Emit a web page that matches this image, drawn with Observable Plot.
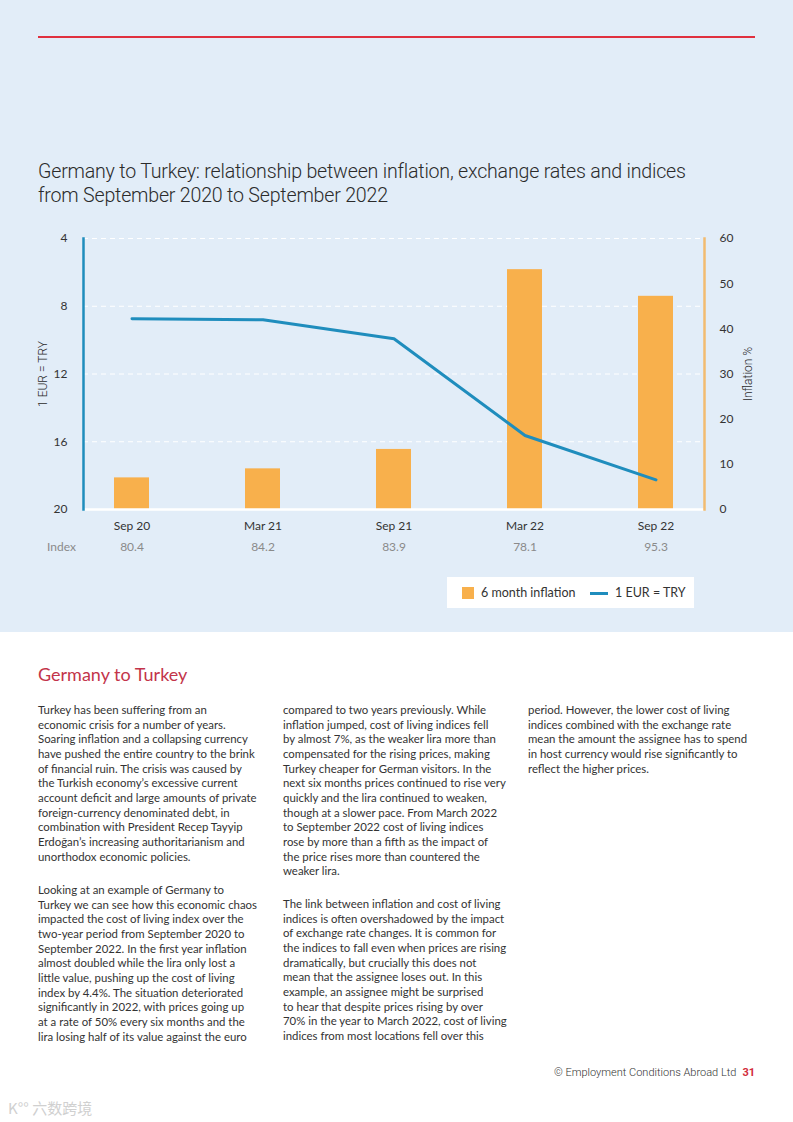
<!DOCTYPE html>
<html>
<head>
<meta charset="utf-8">
<script src="https://cdn.jsdelivr.net/npm/d3@7"></script>
<script src="https://cdn.jsdelivr.net/npm/@observablehq/plot@0.6"></script>
<style>
  html, body { margin: 0; padding: 0; }
  body { width: 793px; height: 1122px; position: relative; background: #fff; font-family: Lato, "Noto Sans", sans-serif; color: #333; overflow: hidden; }
  .band { position: absolute; left: 0; top: 0; width: 793px; height: 632px; background: #e2edf8; }
  .redline { position: absolute; left: 38px; top: 36px; width: 717px; height: 1.5px; background: #e0303f; }
  .title { position: absolute; left: 38px; top: 160px; font-family: Roboto, sans-serif; font-weight: 300; font-size: 19.6px; line-height: 24px; color: #2b2b2b; letter-spacing: -0.2px; white-space: nowrap; }
  #chart { position: absolute; left: 0; top: 220px; }
  #chart g[aria-label="y-axis label"] text { font-family: Roboto, sans-serif; font-weight: 300; fill: #2b2b2b; }
  .legend { position: absolute; left: 447px; top: 577px; width: 247px; height: 31px; background: #fff; font-family: Lato, sans-serif; font-size: 12.5px; color: #333; }
  .legend .sw { position: absolute; left: 15px; top: 10px; width: 12px; height: 12px; background: #f8b04c; }
  .legend .t1 { position: absolute; left: 34px; top: 8px; }
  .legend .ln { position: absolute; left: 143px; top: 15px; width: 18px; height: 3px; background: #1f8dbd; }
  .legend .t2 { position: absolute; left: 168px; top: 8px; }
  .h2 { position: absolute; left: 38px; top: 663px; font-family: Lato, sans-serif; font-size: 18px; color: #c3344a; }
  .col { position: absolute; font-family: Lato, sans-serif; font-size: 11.4px; line-height: 14.65px; color: #333; white-space: nowrap; }
  .foot { position: absolute; right: 38px; top: 1066px; font-family: Roboto, sans-serif; font-weight: 300; font-size: 11px; color: #333; }
  .foot b { color: #d22c3c; font-weight: 700; margin-left: 6px; }
  .wm { position: absolute; left: 8px; top: 1097px; font-family: "Noto Sans CJK SC", sans-serif; font-size: 15px; color: #d0d0d0; }
</style>
</head>
<body>
<div class="band"></div>
<div class="redline"></div>
<div class="title">Germany to Turkey: relationship between inflation, exchange rates and indices<br>from September 2020 to September 2022</div>
<div id="chart"></div>
<div class="legend"><div class="sw"></div><div class="t1">6 month inflation</div><div class="ln"></div><div class="t2">1 EUR = TRY</div></div>
<div class="h2">Germany to Turkey</div>

<div class="col" style="left:38px; top:703px;">Turkey has been suffering from an<br>economic crisis for a number of years.<br>Soaring inflation and a collapsing currency<br>have pushed the entire country to the brink<br>of financial ruin. The crisis was caused by<br>the Turkish economy’s excessive current<br>account deficit and large amounts of private<br>foreign-currency denominated debt, in<br>combination with President Recep Tayyip<br>Erdoğan’s increasing authoritarianism and<br>unorthodox economic policies.</div>
<div class="col" style="left:38px; top:883px;">Looking at an example of Germany to<br>Turkey we can see how this economic chaos<br>impacted the cost of living index over the<br>two-year period from September 2020 to<br>September 2022. In the first year inflation<br>almost doubled while the lira only lost a<br>little value, pushing up the cost of living<br>index by 4.4%. The situation deteriorated<br>significantly in 2022, with prices going up<br>at a rate of 50% every six months and the<br>lira losing half of its value against the euro</div>
<div class="col" style="left:283px; top:703px;">compared to two years previously. While<br>inflation jumped, cost of living indices fell<br>by almost 7%, as the weaker lira more than<br>compensated for the rising prices, making<br>Turkey cheaper for German visitors. In the<br>next six months prices continued to rise very<br>quickly and the lira continued to weaken,<br>though at a slower pace. From March 2022<br>to September 2022 cost of living indices<br>rose by more than a fifth as the impact of<br>the price rises more than countered the<br>weaker lira.</div>
<div class="col" style="left:283px; top:897px;">The link between inflation and cost of living<br>indices is often overshadowed by the impact<br>of exchange rate changes. It is common for<br>the indices to fall even when prices are rising<br>dramatically, but crucially this does not<br>mean that the assignee loses out. In this<br>example, an assignee might be surprised<br>to hear that despite prices rising by over<br>70% in the year to March 2022, cost of living<br>indices from most locations fell over this</div>
<div class="col" style="left:528px; top:703px;">period. However, the lower cost of living<br>indices combined with the exchange rate<br>mean the amount the assignee has to spend<br>in host currency would rise significantly to<br>reflect the higher prices.</div>

<div class="foot">© Employment Conditions Abroad Ltd<b>31</b></div>
<div class="wm">K°° 六数跨境</div>

<script>
const periods = ["Sep 20", "Mar 21", "Sep 21", "Mar 22", "Sep 22"];
const inflation = [7.0, 9.0, 13.3, 53.1, 47.2];
const eurTry = [8.74, 8.8, 9.92, 15.63, 18.25];
const indexValues = ["80.4", "84.2", "83.9", "78.1", "95.3"];
const leftTicks = [4, 8, 12, 16, 20];
const rightTicks = [0, 10, 20, 30, 40, 50, 60];

const tryMin = 4, tryMax = 20, inflMax = 60;
const tryToY = v => (tryMax - v) / (tryMax - tryMin) * inflMax;
const yToTry = y => tryMax - y / inflMax * (tryMax - tryMin);

const data = periods.map((p, i) => ({period: p, inflation: inflation[i], eur: eurTry[i], index: indexValues[i]}));

const blue = "#1f8dbd";
const orange = "#f8b04c";

const chart = Plot.plot({
  width: 793,
  height: 339,
  marginLeft: 83,
  marginRight: 89,
  marginTop: 18,
  marginBottom: 50,
  style: {background: "transparent", fontFamily: "Lato, sans-serif", fontSize: "12px", color: "#333"},
  x: {type: "band", domain: periods, paddingInner: 0.733, paddingOuter: 0.232, label: null},
  y: {domain: [0, inflMax]},
  marks: [
    Plot.ruleY(leftTicks.slice(0, 4).map(tryToY), {stroke: "#ffffff", strokeWidth: 1, strokeDasharray: "5,4"}),
    Plot.barY(data, {x: "period", y: "inflation", fill: orange}),
    Plot.ruleY([0], {stroke: "#ffffff", strokeWidth: 2.5}),
    Plot.lineY(data, {x: "period", y: d => tryToY(d.eur), stroke: blue, strokeWidth: 3}),
    Plot.frame({anchor: "left", stroke: blue, strokeWidth: 2.5}),
    Plot.frame({anchor: "right", stroke: "#f2bb70", strokeWidth: 2.5}),
    Plot.axisY({anchor: "left", ticks: leftTicks.map(tryToY), tickFormat: d => String(Math.round(yToTry(d))), tickSize: 0, tickPadding: 16, label: "1 EUR = TRY", labelAnchor: "center", labelOffset: 45, labelArrow: false, fontSize: 12}),
    Plot.axisY({anchor: "right", ticks: rightTicks, tickFormat: d => String(d), tickSize: 0, tickPadding: 15, textAnchor: "start", label: "Inflation %", labelAnchor: "center", labelOffset: 47, labelArrow: false, fontSize: 12}),
    Plot.axisX({tickSize: 0, tickPadding: 12, label: null, fontSize: 12}),
    Plot.text(data, {x: "period", text: "index", frameAnchor: "bottom", dy: 41, fill: "#8a8a8a", fontSize: 12}),
    Plot.text(["Index"], {frameAnchor: "bottom-left", dx: -22, dy: 41, fill: "#8a8a8a", fontSize: 12, textAnchor: "middle"})
  ]
});
document.getElementById("chart").appendChild(chart);
</script>
</body>
</html>
